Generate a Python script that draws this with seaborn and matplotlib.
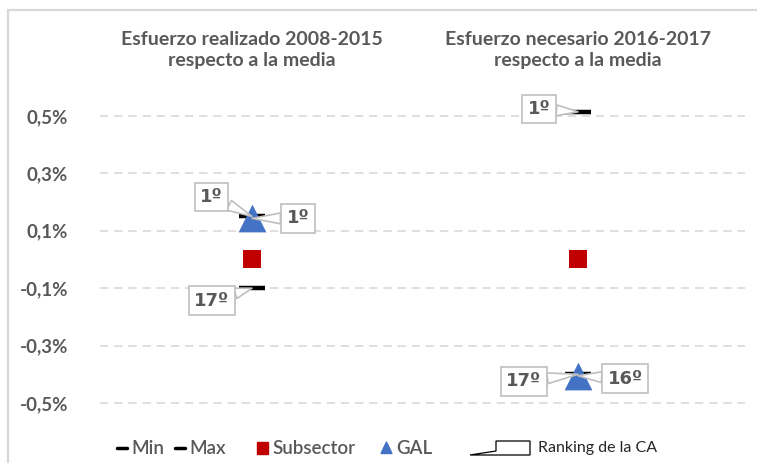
import matplotlib
matplotlib.use("Agg")
import matplotlib.pyplot as plt
import seaborn as sns
import pandas as pd
from matplotlib.lines import Line2D
from matplotlib.patches import Rectangle, Polygon

sns.set_theme(style="white")
plt.rcParams['font.family'] = ['Lato', 'DejaVu Sans']

# ---- data ----
categories = ["Esfuerzo realizado 2008-2015\nrespecto a la media",
              "Esfuerzo necesario 2016-2017\nrespecto a la media"]
min_vals = [-0.10, -0.40]
max_vals = [0.15, 0.514]
subsector_vals = [0.0, 0.0]
gal_vals = [0.143, -0.405]
min_rank = ["17º", "17º"]
max_rank = ["1º", "1º"]
gal_rank = ["1º", "16º"]
yticks = [0.5, 0.3, 0.1, -0.1, -0.3, -0.5]
ytick_labels = ["0,5%", "0,3%", "0,1%", "-0,1%", "-0,3%", "-0,5%"]

xpos = list(range(len(categories)))
df = pd.DataFrame({"x": xpos, "Min": min_vals, "Max": max_vals,
                   "Subsector": subsector_vals, "GAL": gal_vals})

GRAY = "#595959"
RED = "#C00000"
BLUE = "#4472C4"

fig = plt.figure(figsize=(7.57, 4.63), dpi=100)
ax = fig.add_axes([100/757, 1 - 420/463, 645/757, (420 - 86)/463])

# dashed gridlines
for t in yticks:
    ax.axhline(t, color="#D9D9D9", lw=1.2, ls=(0, (5, 3.5)), zorder=0)

sns.scatterplot(data=df, x="x", y="Subsector", marker="s", s=180, color=RED,
                edgecolor=RED, linewidth=0, ax=ax, zorder=3, legend=False)
sns.scatterplot(data=df, x="x", y="Min", marker="_", s=330, color="black",
                linewidth=3.2, ax=ax, zorder=3, legend=False)
sns.scatterplot(data=df, x="x", y="Max", marker="_", s=330, color="black",
                linewidth=3.2, ax=ax, zorder=3, legend=False)
sns.scatterplot(data=df, x="x", y="GAL", marker="^", s=400, color=BLUE,
                edgecolor=BLUE, linewidth=0, ax=ax, zorder=4, legend=False)

ax.set_xlim(-0.466, 1.512)
ax.set_ylim(-0.559, 0.604)
ax.set_xticks(xpos)
ax.set_xticklabels(categories, fontsize=14, fontweight="bold", color=GRAY,
                   linespacing=1.3)
ax.xaxis.tick_top()
ax.tick_params(axis="x", length=0, pad=12)
ax.set_yticks(yticks)
ax.set_yticklabels(ytick_labels, fontsize=13.5, fontweight="bold", color=GRAY)
ax.tick_params(axis="y", length=0, pad=23)
ax.set_xlabel("")
ax.set_ylabel("")
for s in ax.spines.values():
    s.set_visible(False)


def callout(text, xy, off):
    ax.annotate(text, xy=xy, xytext=off, textcoords="offset points",
                ha="center", va="center", fontsize=13, fontweight="bold",
                family=["DejaVu Sans"], color=GRAY, zorder=6,
                bbox=dict(boxstyle="square,pad=0.3", fc="white",
                          ec="#BFBFBF", lw=1.2),
                arrowprops=dict(arrowstyle="wedge,tail_width=0.6,shrink_factor=0.5",
                                fc="white", ec="#BFBFBF", lw=1.2,
                                shrinkA=0, shrinkB=0),)

# column 1
callout(max_rank[0], (xpos[0], max_vals[0]), (-29, 14))
callout(gal_rank[0], (xpos[0], gal_vals[0]), (33, 0))
callout(min_rank[0], (xpos[0], min_vals[0]), (-29, -9))
# column 2
callout(max_rank[1], (xpos[1], max_vals[1]), (-28, 2))
callout(min_rank[1], (xpos[1], min_vals[1]), (-39, -5))
callout(gal_rank[1], (xpos[1], gal_vals[1]), (34, -2))

# chart border (top and left)
fig.add_artist(Line2D([7.5/757, 7.5/757], [0, 1 - 10/463], color="#D9D9D9",
                      lw=1.6, transform=fig.transFigure))
fig.add_artist(Line2D([7.5/757, 1], [1 - 10/463, 1 - 10/463], color="#D9D9D9",
                      lw=1.6, transform=fig.transFigure))

# legend
ly = 1 - 448/463
def ftxt(x, s, size=13.5, weight="normal", color=GRAY):
    fig.text(x/757, ly, s, fontsize=size, color=color, fontweight=weight,
             va="center", ha="left")

fig.add_artist(Line2D([117/757, 127/757], [ly, ly], color="black", lw=2.5,
                      transform=fig.transFigure))
ftxt(131, "Min", weight="semibold")
fig.add_artist(Line2D([175/757, 185/757], [ly, ly], color="black", lw=2.5,
                      transform=fig.transFigure))
ftxt(189, "Max", weight="semibold")
fig.add_artist(Rectangle((257/757, ly - 6/463), 11/757, 12/463, color=RED,
                         transform=fig.transFigure))
ftxt(272, "Subsector", weight="semibold")
fig.add_artist(Polygon([(381/757, ly - 5.5/463), (392/757, ly - 5.5/463),
                        (386.5/757, ly + 6/463)], closed=True, color=BLUE,
                       transform=fig.transFigure))
ftxt(396, "GAL", weight="semibold")
fig.add_artist(Polygon([(470/757, ly - 7/463), (496/757, ly - 3/463),
                        (496/757, ly + 7/463), (530/757, ly + 7/463),
                        (530/757, ly - 7/463), (504/757, ly - 7/463)],
                       closed=True, fc="white", ec="black", lw=0.9,
                       transform=fig.transFigure))
ftxt(538, "Ranking de la CA", size=11.5, color="#262626")

fig.savefig("out.png", dpi=100)
